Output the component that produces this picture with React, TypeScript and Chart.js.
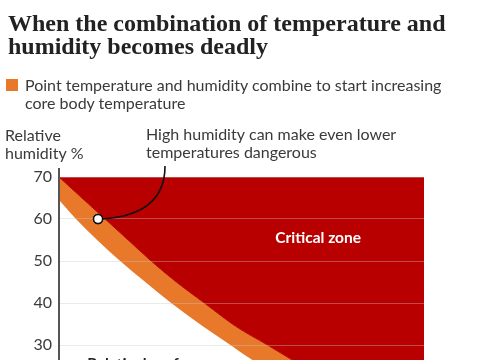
import React, { useEffect, useRef } from "react";
import { Chart, registerables } from "chart.js";

Chart.register(...registerables);

// ---- Data (temperature °C, relative humidity %) ----
const criticalTopTemps = [30, 50];
const criticalTopHumidity = [70, 70];

// Upper edge of the orange band (start of the critical zone)
const criticalEdgeTemps = [30.0, 31.26, 32.53, 33.79, 35.05, 36.43, 37.97, 39.67, 41.43, 42.8, 45.93, 50.0];
const criticalEdgeHumidity = [70, 65, 60, 55, 50, 45, 40, 34.5, 30, 26.4, 18.8, 9.3];

// Lower edge of the orange band (core temperature starts to rise)
const onsetTemps = [30.0, 30.93, 32.09, 33.35, 34.73, 36.15, 37.86, 39.23, 40.6, 44.29, 50.0];
const onsetHumidity = [64.5, 60, 55, 50, 45, 40, 34.5, 30.5, 26.4, 16.9, 3.8];

const markerTemp = [32.14];
const markerHumidity = [60];

const yTickValues = [0, 10, 20, 30, 40, 50, 60, 70];
const xTickValues = [30, 35, 40, 45, 50];

const criticalLabel = "Critical zone";
const criticalLabelPos = [44.2, 55.5];
const safeLabel = "Relatively safe zone";
const safeLabelPos = [31.55, 24.4];

const RED = "#b80000";
const ORANGE = "#e8782a";
const SANS = '"Lato", "Noto Sans", sans-serif';
const TEXT = "#3a3a3a";

const toPoints = (xs: number[], ys: number[]) => xs.map((x, i) => ({ x, y: ys[i] }));

export default function App() {
  const ref = useRef<HTMLCanvasElement>(null);

  useEffect(() => {
    const canvas = ref.current!;
    const annotations = {
      id: "annotations",
      afterDraw(chart: any) {
        const ctx = chart.ctx as CanvasRenderingContext2D;
        const xs = chart.scales.x;
        const ys = chart.scales.y;
        ctx.save();
        // axis title
        ctx.fillStyle = TEXT;
        ctx.font = `16px ${SANS}`;
        ctx.textAlign = "left";
        ctx.textBaseline = "alphabetic";
        ctx.fillText("Relative", 5, 141);
        ctx.fillText("humidity %", 5, 159);
        // annotation text
        ctx.fillText("High humidity can make even lower", 146, 140);
        ctx.fillText("temperatures dangerous", 146, 158);
        // connector
        const mx = xs.getPixelForValue(markerTemp[0]);
        const my = ys.getPixelForValue(markerHumidity[0]);
        const ex = 165;
        const ey = 166;
        ctx.strokeStyle = "#111";
        ctx.lineWidth = 1.6;
        ctx.beginPath();
        ctx.moveTo(mx + 4, my);
        ctx.quadraticCurveTo(ex, my - 4, ex, ey);
        ctx.stroke();
        // marker redraw on top
        ctx.beginPath();
        ctx.arc(mx, my, 4.5, 0, Math.PI * 2);
        ctx.fillStyle = "#fff";
        ctx.fill();
        ctx.lineWidth = 1.5;
        ctx.strokeStyle = "#111";
        ctx.stroke();
        // critical zone label
        ctx.fillStyle = "#fff";
        ctx.font = `bold 15.5px ${SANS}`;
        ctx.textAlign = "center";
        ctx.textBaseline = "middle";
        ctx.fillText(
          criticalLabel,
          xs.getPixelForValue(criticalLabelPos[0]),
          ys.getPixelForValue(criticalLabelPos[1])
        );
        // safe zone label (cut off by the page edge)
        ctx.fillStyle = "#222";
        ctx.textAlign = "left";
        ctx.textBaseline = "alphabetic";
        ctx.fillText(
          safeLabel,
          xs.getPixelForValue(safeLabelPos[0]),
          ys.getPixelForValue(safeLabelPos[1])
        );
        ctx.restore();
      },
    };

    const chart = new Chart(canvas, {
      type: "line",
      data: {
        datasets: [
          {
            label: "Marker",
            data: toPoints(markerTemp, markerHumidity),
            showLine: false,
            pointRadius: 4.5,
            pointBackgroundColor: "#fff",
            pointBorderColor: "#111",
            pointBorderWidth: 1.5,
            fill: false,
          },
          {
            label: "Top",
            data: toPoints(criticalTopTemps, criticalTopHumidity),
            borderWidth: 0,
            pointRadius: 0,
            fill: false,
          },
          {
            label: "Critical zone",
            data: toPoints(criticalEdgeTemps, criticalEdgeHumidity),
            borderColor: RED,
            borderWidth: 1,
            pointRadius: 0,
            cubicInterpolationMode: "monotone",
            backgroundColor: RED,
            fill: 1,
          },
          {
            label: "Onset",
            data: toPoints(onsetTemps, onsetHumidity),
            borderColor: ORANGE,
            borderWidth: 0,
            pointRadius: 0,
            cubicInterpolationMode: "monotone",
            backgroundColor: ORANGE,
            fill: 2,
          },
        ],
      },
      options: {
        responsive: false,
        animation: false,
        devicePixelRatio: 1,
        layout: { padding: { left: 0, right: 61, top: 168.6, bottom: 0 } },
        plugins: {
          legend: { display: false },
          tooltip: { enabled: false },
        },
        scales: {
          x: {
            type: "linear",
            min: 30,
            max: 50,
            afterFit: (s: any) => {
              s.height = 40;
            },
            afterBuildTicks: (s: any) => {
              s.ticks = xTickValues.map((v) => ({ value: v }));
            },
            grid: { display: false },
            border: { display: false },
            ticks: { font: { family: SANS, size: 16 }, color: TEXT, callback: (v: any) => `${v}°C` },
          },
          y: {
            type: "linear",
            min: 0,
            max: 72,
            afterFit: (s: any) => {
              s.width = 59;
            },
            afterBuildTicks: (s: any) => {
              s.ticks = yTickValues.map((v) => ({ value: v }));
            },
            grid: { color: "rgba(200,200,200,0.38)", z: 1, drawTicks: false, lineWidth: 1 },
            border: { display: true, color: "#555", width: 2, z: 1 },
            ticks: { padding: 7, font: { family: SANS, size: 16 }, color: TEXT },
          },
        },
      } as any,
      plugins: [annotations],
    });
    return () => chart.destroy();
  }, []);

  return (
    <div
      style={{
        position: "fixed",
        left: 0,
        top: 0,
        width: 485,
        height: 360,
        overflow: "hidden",
        background: "#fff",
      }}
    >
      <canvas
        ref={ref}
        width={485}
        height={511}
        style={{ position: "absolute", left: 0, top: 0, width: 485, height: 511 }}
      />
      <div
        style={{
          position: "absolute",
          left: 8,
          top: 12,
          font: 'bold 24px/23px "Liberation Serif", serif',
          color: "#222",
          whiteSpace: "nowrap",
        }}
      >
        When the combination of temperature and
        <br />
        humidity becomes deadly
      </div>
      <div
        style={{ position: "absolute", left: 6, top: 79, width: 12, height: 12, background: ORANGE }}
      />
      <div
        style={{
          position: "absolute",
          left: 25,
          top: 76,
          font: `16px/17.5px ${SANS}`,
          color: TEXT,
          whiteSpace: "nowrap",
        }}
      >
        Point temperature and humidity combine to start increasing
        <br />
        core body temperature
      </div>
    </div>
  );
}
